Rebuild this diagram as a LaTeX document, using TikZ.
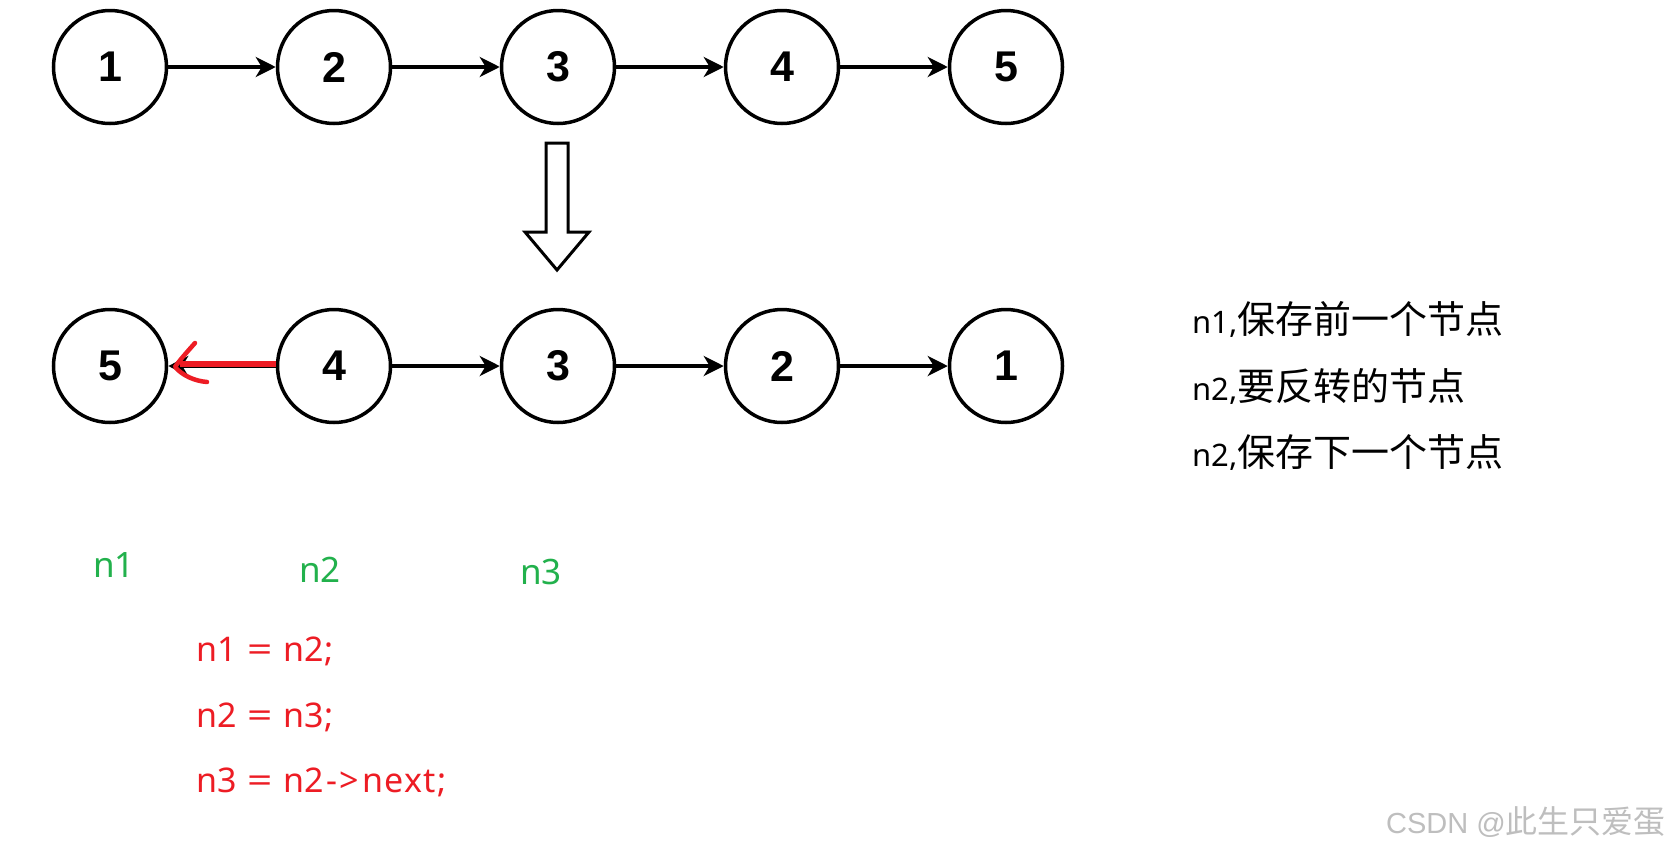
\documentclass[tikz,border=0pt]{standalone}
\usepackage{fontspec}
\usepackage{graphicx}
\setmainfont{Noto Sans}
\newfontfamily\cjk{Noto Sans CJK SC}
\newfontfamily\numfont{Liberation Sans}
\newfontfamily\wmfont{Liberation Sans}
\usetikzlibrary{arrows.meta}
\definecolor{codered}{RGB}{237,28,36}
\definecolor{labgreen}{RGB}{34,177,76}
\definecolor{wmgray}{RGB}{190,190,190}
\tikzset{
  lnode/.style={circle, draw=black, line width=3.5pt, minimum size=113pt, inner sep=0pt,
    font=\numfont\bfseries\fontsize{43}{43}\selectfont},
  link/.style={draw=black, line width=3.5pt, -{Stealth[length=20pt,width=20pt,inset=6pt]}},
  greenlab/.style={anchor=base west, inner sep=0pt, text=labgreen, font=\fontsize{35}{40}\selectfont},
  codeline/.style={anchor=base west, inner sep=0pt, text=codered, font=\fontsize{34}{40}\selectfont},
  notetext/.style={anchor=base west, inner sep=0pt, text=black},
  blockarrow/.style={draw=black, line width=3pt, fill=white, line join=miter},
  redmark/.style={draw=codered, line width=5.5pt},
  redhead/.style={draw=codered, line width=4.5pt, line cap=round, line join=round}
}
\newcommand{\latinpart}[1]{{\fontsize{31}{38}\selectfont #1}}
\newcommand{\cjkpart}[1]{{\cjk\fontsize{38}{44}\selectfont #1}}
\newcommand{\wideeq}{\hspace{11pt}\scalebox{1.3}[1]{=}\hspace{11pt}}
\begin{document}
\begin{tikzpicture}[x=1pt,y=-1pt]
\useasboundingbox[fill=white] (0,0) rectangle (1672,852);
% top row
\node[lnode] (t1) at (110,67) {1};
\node[lnode] (t2) at (334,67) {2};
\node[lnode] (t3) at (558,67) {3};
\node[lnode] (t4) at (782,67) {4};
\node[lnode] (t5) at (1006,67) {5};
\draw[link] (t1) -- (t2);
\draw[link] (t2) -- (t3);
\draw[link] (t3) -- (t4);
\draw[link] (t4) -- (t5);
% block arrow
\draw[blockarrow] (546,143) -- (568,143) -- (568,232) -- (589,232) -- (557,270) -- (525,232) -- (546,232) -- cycle;
% bottom row
\node[lnode] (b1) at (110,366) {5};
\node[lnode] (b2) at (334,366) {4};
\node[lnode] (b3) at (558,366) {3};
\node[lnode] (b4) at (782,366) {2};
\node[lnode] (b5) at (1006,366) {1};
\draw[link] (b2) -- (b1);
\draw[link] (b2) -- (b3);
\draw[link] (b3) -- (b4);
\draw[link] (b4) -- (b5);
% red overlay
\coordinate (redend) at (180,364);
\draw[redmark] (b2.west) ++(0,-2) -- (redend);
\draw[redhead] (195,343) .. controls (187,352) and (179,361) .. (175,367) .. controls (183,376) and (195,381) .. (207,382);
% notes
\node[notetext] (note1) at (1192,333) {\latinpart{n1,}\cjkpart{保存前一个节点}};
\node[notetext] (note2) at (1192,400) {\latinpart{n2,}\cjkpart{要反转的节点}};
\node[notetext] (note3) at (1192,466) {\latinpart{n2,}\cjkpart{保存下一个节点}};
% green labels
\node[greenlab] (g1) at (93,577) {n1};
\node[greenlab] (g2) at (299,582) {n2};
\node[greenlab] (g3) at (520,584) {n3};
% code
\node[codeline] (c1) at (196,661) {n1\wideeq n2;};
\node[codeline] (c2) at (196,727) {n2\wideeq n3;};
\node[codeline] (c3) at (196,792) {n3\wideeq n2\hspace{2pt}-\hspace{2pt}{>}\hspace{4pt}n\hspace{1pt}e\hspace{1pt}x\hspace{1pt}t\hspace{1pt};};
% watermark
\node[anchor=base east, inner sep=0pt, text=wmgray] (wm) at (1666,833) {{\wmfont\fontsize{29}{32}\selectfont CSDN @}{\cjk\fontsize{32}{38}\selectfont 此生只爱蛋}};
\end{tikzpicture}
\end{document}
